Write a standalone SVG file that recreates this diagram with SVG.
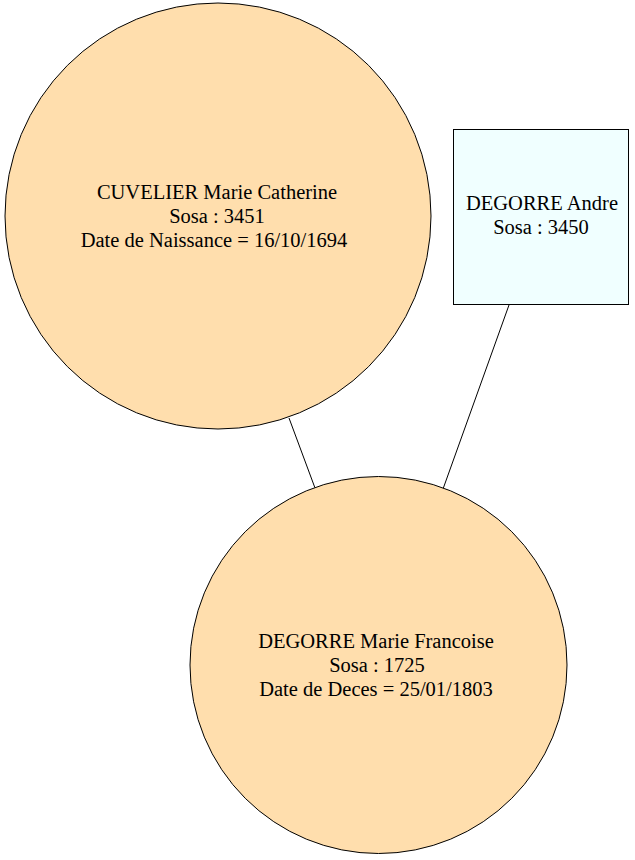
<svg xmlns="http://www.w3.org/2000/svg" width="635" height="860" viewBox="0 0 635 860">
<style>
.n{stroke:#000;stroke-width:1}
.p{fill:#ffdead}
.a{fill:#f0ffff}
text{font-family:"Liberation Serif","Times New Roman",serif;font-size:20.5px;fill:#000;text-anchor:middle}
.e{stroke:#000;stroke-width:1;fill:none}
</style>
<rect width="635" height="860" fill="#fff"/>
<g id="edges">
<line class="e" x1="289" y1="418" x2="315" y2="488"/>
<line class="e" x1="509" y1="305" x2="443" y2="489"/>
</g>
<g id="n3451">
<circle class="n p" cx="218" cy="216" r="213"/>
<text x="217" y="199">CUVELIER Marie Catherine</text>
<text x="217" y="223">Sosa : 3451</text>
<text x="214" y="247">Date de Naissance = 16/10/1694</text>
</g>
<g id="n3450">
<rect class="n a" x="453.5" y="129.5" width="175" height="175"/>
<text x="542" y="210">DEGORRE Andre</text>
<text x="541" y="234">Sosa : 3450</text>
</g>
<g id="n1725">
<circle class="n p" cx="378.5" cy="665" r="188.5"/>
<text x="376" y="648">DEGORRE Marie Francoise</text>
<text x="377" y="672">Sosa : 1725</text>
<text x="376" y="696">Date de Deces = 25/01/1803</text>
</g>
</svg>
